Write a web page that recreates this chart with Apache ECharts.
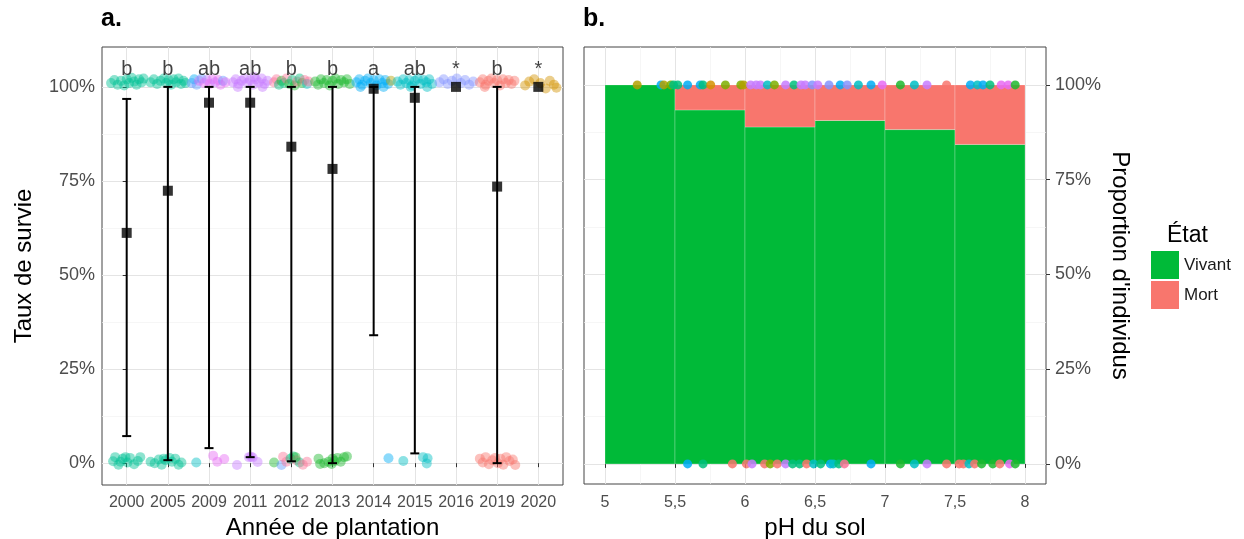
<!DOCTYPE html>
<html>
<head>
<meta charset="utf-8">
<script src="https://cdn.jsdelivr.net/npm/echarts@6/dist/echarts.min.js"></script>
<style>
  html, body { margin: 0; padding: 0; background: #fff; }
  #chart { width: 1244px; height: 539px; }
</style>
</head>
<body>
<div id="chart"></div>
<script>
// Panel a: survival by planting year
const years = ['2000', '2005', '2009', '2011', '2012', '2013', '2014', '2015', '2016', '2019', '2020'];
const letters = ['b', 'b', 'ab', 'ab', 'b', 'b', 'a', 'ab', '*', 'b', '*'];
const meanSurvival = [0.612, 0.724, 0.958, 0.958, 0.841, 0.782, 0.995, 0.971, 1.0, 0.735, 1.0];
const barLow = [0.072, 0.008, 0.040, 0.016, 0.005, 0.0, 0.340, 0.026, null, 0.0, null];
const barHigh = [0.968, 1.0, 1.0, 1.0, 1.0, 1.0, 1.0, 1.0, null, 1.0, null];

// Jittered individual points: [year index, jitter, survival, colour]
const survivorPoints = [
  [0, -0.38, 1.010, 'teal'], [0, -0.30, 1.018, 'teal'], [0, -0.22, 1.006, 'teal'], [0, -0.14, 1.016, 'teal'],
  [0, -0.06, 1.004, 'teal'], [0, 0.00, 1.020, 'teal'], [0, 0.06, 1.010, 'teal'], [0, 0.12, 1.024, 'teal'],
  [0, 0.18, 1.014, 'teal'], [0, 0.24, 1.006, 'teal'], [0, 0.30, 1.020, 'teal'], [0, 0.36, 1.012, 'teal'], [0, 0.41, 1.022, 'teal'],
  [1, -0.42, 1.012, 'teal'], [1, -0.34, 1.020, 'teal'], [1, -0.26, 1.008, 'teal'], [1, -0.18, 1.016, 'teal'],
  [1, -0.10, 1.022, 'teal'], [1, -0.04, 1.010, 'teal'], [1, 0.02, 1.018, 'teal'], [1, 0.08, 1.006, 'teal'],
  [1, 0.14, 1.020, 'teal'], [1, 0.20, 1.012, 'teal'], [1, 0.26, 1.022, 'teal'], [1, 0.32, 1.008, 'teal'],
  [1, 0.38, 1.016, 'teal'], [1, 0.43, 1.010, 'teal'],
  [2, -0.42, 1.010, 'lblue'], [2, -0.36, 1.020, 'blue'], [2, -0.30, 1.006, 'lblue'], [2, -0.24, 1.016, 'pink'],
  [2, -0.18, 1.022, 'lblue'], [2, -0.12, 1.010, 'pink'], [2, -0.05, 1.018, 'violet'], [2, 0.02, 1.008, 'pink'],
  [2, 0.08, 1.020, 'pink'], [2, 0.15, 1.012, 'violet'], [2, 0.22, 1.018, 'pink'], [2, 0.28, 1.006, 'pink'],
  [2, 0.34, 1.016, 'lblue'], [2, 0.40, 1.012, 'pink'],
  [3, -0.42, 1.012, 'violet'], [3, -0.35, 1.020, 'violet'], [3, -0.28, 1.008, 'violet'], [3, -0.21, 1.016, 'violet'],
  [3, -0.14, 1.022, 'violet'], [3, -0.07, 1.010, 'violet'], [3, 0.00, 1.018, 'violet'], [3, 0.07, 1.006, 'violet'],
  [3, 0.14, 1.020, 'violet'], [3, 0.21, 1.012, 'violet'], [3, 0.28, 1.022, 'violet'], [3, 0.35, 1.008, 'violet'],
  [3, 0.42, 1.016, 'violet'], [3, -0.30, 1.000, 'violet'], [3, 0.10, 1.026, 'violet'], [3, 0.30, 1.000, 'violet'],
  [4, -0.42, 1.012, 'rose'], [4, -0.36, 1.020, 'rose'], [4, -0.30, 1.006, 'mint'], [4, -0.24, 1.016, 'green'],
  [4, -0.18, 1.010, 'mint'], [4, -0.12, 1.022, 'rose'], [4, -0.05, 1.008, 'green'], [4, 0.02, 1.018, 'mint'],
  [4, 0.08, 1.004, 'green'], [4, 0.14, 1.014, 'rose'], [4, 0.20, 1.022, 'mint'], [4, 0.26, 1.010, 'green'],
  [4, 0.32, 1.018, 'rose'], [4, 0.38, 1.008, 'cyan'], [4, 0.42, 1.014, 'rose'],
  [5, -0.42, 1.014, 'green'], [5, -0.35, 1.006, 'green'], [5, -0.28, 1.020, 'green'], [5, -0.21, 1.010, 'green'],
  [5, -0.14, 1.018, 'green'], [5, -0.07, 1.004, 'green'], [5, 0.00, 1.016, 'green'], [5, 0.07, 1.022, 'green'],
  [5, 0.14, 1.008, 'green'], [5, 0.21, 1.018, 'green'], [5, 0.28, 1.012, 'green'], [5, 0.35, 1.020, 'green'], [5, 0.42, 1.008, 'green'],
  [6, -0.42, 1.012, 'blue'], [6, -0.35, 1.020, 'blue'], [6, -0.28, 1.006, 'blue'], [6, -0.21, 1.016, 'blue'],
  [6, -0.14, 1.022, 'blue'], [6, -0.07, 1.010, 'blue'], [6, 0.00, 1.018, 'blue'], [6, 0.07, 1.004, 'blue'],
  [6, 0.14, 1.020, 'blue'], [6, 0.21, 1.010, 'blue'], [6, 0.28, 1.018, 'blue'], [6, 0.35, 1.008, 'blue'],
  [6, 0.42, 1.016, 'olive'], [6, -0.32, 1.000, 'blue'], [6, 0.24, 1.000, 'blue'],
  [7, -0.42, 1.014, 'cyan'], [7, -0.35, 1.006, 'cyan'], [7, -0.28, 1.020, 'cyan'], [7, -0.21, 1.010, 'cyan'],
  [7, -0.14, 1.018, 'cyan'], [7, -0.07, 1.004, 'cyan'], [7, 0.00, 1.016, 'cyan'], [7, 0.07, 1.022, 'cyan'],
  [7, 0.14, 1.008, 'cyan'], [7, 0.21, 1.018, 'cyan'], [7, 0.28, 1.012, 'cyan'], [7, 0.35, 1.020, 'cyan'],
  [7, 0.42, 1.008, 'cyan'], [7, -0.10, 1.000, 'cyan'], [7, 0.30, 1.000, 'cyan'],
  [8, -0.40, 1.012, 'peri'], [8, -0.30, 1.020, 'peri'], [8, -0.20, 1.008, 'peri'], [8, -0.10, 1.016, 'peri'],
  [8, 0.02, 1.022, 'peri'], [8, 0.12, 1.010, 'peri'], [8, 0.22, 1.018, 'peri'], [8, 0.32, 1.006, 'peri'], [8, 0.42, 1.014, 'peri'],
  [9, -0.42, 1.012, 'salmon'], [9, -0.35, 1.020, 'salmon'], [9, -0.28, 1.006, 'salmon'], [9, -0.21, 1.016, 'salmon'],
  [9, -0.14, 1.022, 'salmon'], [9, -0.07, 1.010, 'salmon'], [9, 0.00, 1.018, 'salmon'], [9, 0.07, 1.004, 'salmon'],
  [9, 0.14, 1.020, 'salmon'], [9, 0.21, 1.010, 'salmon'], [9, 0.28, 1.018, 'salmon'], [9, 0.35, 1.008, 'salmon'],
  [9, 0.42, 1.016, 'salmon'], [9, -0.30, 1.000, 'salmon'],
  [10, -0.32, 1.004, 'gold'], [10, -0.22, 1.014, 'gold'], [10, -0.10, 1.020, 'gold'], [10, 0.05, 1.010, 'gold'],
  [10, 0.18, 0.996, 'gold'], [10, 0.28, 1.016, 'gold'], [10, 0.38, 1.006, 'gold'], [10, 0.44, 0.998, 'gold']
];

const deadPoints = [
  [0, -0.33, 0.005, 'teal'], [0, -0.28, 0.016, 'teal'], [0, -0.20, -0.004, 'teal'], [0, -0.10, 0.012, 'teal'],
  [0, -0.03, 0.016, 'teal'], [0, 0.02, 0.002, 'teal'], [0, 0.08, 0.014, 'teal'], [0, 0.18, -0.003, 'teal'],
  [0, 0.27, 0.006, 'teal'], [0, 0.33, 0.016, 'teal'], [0, -0.15, 0.004, 'teal'],
  [1, -0.42, 0.004, 'teal'], [1, -0.32, 0.000, 'teal'], [1, -0.22, 0.010, 'teal'], [1, -0.15, -0.004, 'teal'],
  [1, -0.06, 0.008, 'teal'], [1, 0.04, 0.014, 'teal'], [1, 0.10, 0.004, 'teal'], [1, 0.18, 0.012, 'teal'],
  [1, 0.26, -0.004, 'teal'], [1, 0.33, 0.002, 'teal'], [1, -0.10, 0.012, 'teal'],
  [2, -0.31, 0.002, 'cyan'], [2, 0.10, 0.020, 'pink'], [2, 0.20, 0.004, 'pink'], [2, 0.37, 0.011, 'pink'],
  [3, -0.32, -0.005, 'violet'], [3, -0.03, 0.016, 'violet'], [3, 0.02, 0.017, 'violet'], [3, 0.06, 0.015, 'violet'], [3, 0.18, 0.003, 'violet'],
  [4, -0.42, 0.002, 'green'], [4, -0.24, -0.005, 'lblue'], [4, -0.20, 0.017, 'rose'], [4, -0.12, 0.004, 'rose'],
  [4, -0.02, 0.012, 'mint'], [4, 0.05, 0.018, 'mint'], [4, 0.12, 0.008, 'rose'], [4, 0.20, 0.002, 'mint'],
  [4, 0.28, -0.004, 'rose'], [4, 0.38, 0.004, 'rose'], [4, 0.10, 0.016, 'green'],
  [5, -0.34, 0.012, 'green'], [5, -0.30, -0.002, 'green'], [5, -0.20, 0.000, 'green'], [5, -0.10, 0.004, 'green'],
  [5, -0.02, -0.002, 'green'], [5, 0.05, 0.006, 'green'], [5, 0.12, 0.014, 'green'], [5, 0.20, 0.004, 'green'],
  [5, 0.28, 0.016, 'green'], [5, 0.35, 0.018, 'green'], [5, 0.00, 0.012, 'green'],
  [6, 0.36, 0.013, 'blue'],
  [7, -0.28, 0.006, 'cyan'], [7, 0.20, 0.016, 'cyan'], [7, 0.31, 0.013, 'cyan'], [7, 0.29, -0.001, 'cyan'],
  [9, -0.42, 0.012, 'salmon'], [9, -0.35, 0.002, 'salmon'], [9, -0.28, 0.016, 'salmon'], [9, -0.20, -0.003, 'salmon'],
  [9, -0.12, 0.008, 'salmon'], [9, -0.05, 0.014, 'salmon'], [9, 0.02, 0.000, 'salmon'], [9, 0.08, 0.012, 'salmon'],
  [9, 0.15, -0.004, 'salmon'], [9, 0.22, 0.016, 'salmon'], [9, 0.30, 0.006, 'salmon'], [9, 0.38, 0.010, 'salmon'], [9, 0.44, -0.005, 'salmon']
];

// Panel b: share of living trees per soil pH bin
const phBinStart = [5.0, 5.5, 6.0, 6.5, 7.0, 7.5];
const phBinWidth = 0.5;
const aliveShare = [1.0, 0.934, 0.889, 0.906, 0.882, 0.843];
const phTicks = [5, 5.5, 6, 6.5, 7, 7.5, 8];
const phMinorTicks = [5.25, 5.75, 6.25, 6.75, 7.25, 7.75];

// Individual trees on the pH axis: [pH, colour]
const phAlive = [
  [5.23, 'olive'], [5.40, 'blue'], [5.42, 'olive'], [5.47, 'lime'], [5.49, 'mint'], [5.52, 'mint'],
  [5.59, 'blue'], [5.68, 'blue'], [5.70, 'mint'], [5.755, 'gold'], [5.86, 'lime'], [5.97, 'lime'],
  [5.99, 'olive'], [6.04, 'violet'], [6.08, 'violet'], [6.11, 'violet'], [6.16, 'cyan'], [6.21, 'lime'],
  [6.29, 'violet'], [6.35, 'mint'], [6.40, 'violet'], [6.43, 'violet'], [6.48, 'peri'], [6.52, 'violet'],
  [6.60, 'peri'], [6.68, 'blue'], [6.73, 'peri'], [6.81, 'cyan'], [6.90, 'blue'], [6.98, 'pink'],
  [7.11, 'green'], [7.21, 'cyan'], [7.30, 'violet'], [7.44, 'salmon'], [7.61, 'blue'], [7.66, 'cyan'],
  [7.70, 'blue'], [7.75, 'mint'], [7.83, 'pink'], [7.88, 'pink'], [7.93, 'green']
];
const phDead = [
  [5.59, 'blue'], [5.70, 'mint'], [5.91, 'salmon'], [6.01, 'salmon'], [6.05, 'violet'], [6.14, 'salmon'],
  [6.18, 'lime'], [6.23, 'salmon'], [6.29, 'violet'], [6.34, 'mint'], [6.39, 'mint'], [6.44, 'salmon'],
  [6.49, 'cyan'], [6.54, 'mint'], [6.61, 'blue'], [6.63, 'cyan'], [6.67, 'mint'], [6.71, 'rose'],
  [6.90, 'blue'], [7.11, 'green'], [7.21, 'cyan'], [7.30, 'violet'], [7.44, 'salmon'], [7.53, 'salmon'],
  [7.56, 'salmon'], [7.60, 'cyan'], [7.64, 'salmon'], [7.69, 'green'], [7.77, 'green'], [7.82, 'salmon'],
  [7.89, 'pink'], [7.93, 'green']
];

const palette = {
  teal: '#00C094', mint: '#00BF7D', pink: '#E76BF3', violet: '#C77CFF', rose: '#FB7396',
  green: '#1DB82E', blue: '#00ADF6', lblue: '#619CFF', cyan: '#00BFC4', peri: '#8494FF',
  salmon: '#F8766D', gold: '#D39200', olive: '#B3A000', lime: '#7CAE00'
};

const FONT = 'Liberation Sans, Arial, sans-serif';
const tickStyle = { show: true, length: 4, lineStyle: { color: '#333', width: 1 } };
const majorGrid = { show: true, lineStyle: { color: '#E4E4E4', width: 1 } };
const minorGrid = { show: true, lineStyle: { color: '#F2F2F2', width: 0.7 } };
const pct = v => Math.round(v * 100) + '%';
const survivalTicks = [0, 0.25, 0.5, 0.75, 1];
const survivalMinor = [0.125, 0.375, 0.625, 0.875];

const chart = echarts.init(document.getElementById('chart'), null, { renderer: 'canvas' });

function minorAxis(gridIndex, min, max, values) {
  return {
    type: 'value', gridIndex, min, max,
    axisLine: { show: false },
    axisTick: { show: false, customValues: values },
    axisLabel: { show: false, customValues: values },
    splitLine: minorGrid
  };
}

function errorBarItem(params, api) {
  const x = api.value(0);
  const lo = api.coord([x, api.value(1)]);
  const hi = api.coord([x, api.value(2)]);
  const cap = 4.5;
  const style = { stroke: '#000', lineWidth: 2 };
  return {
    type: 'group',
    children: [
      { type: 'line', shape: { x1: lo[0], y1: lo[1], x2: hi[0], y2: hi[1] }, style },
      { type: 'line', shape: { x1: lo[0] - cap, y1: lo[1], x2: lo[0] + cap, y2: lo[1] }, style },
      { type: 'line', shape: { x1: hi[0] - cap, y1: hi[1], x2: hi[0] + cap, y2: hi[1] }, style }
    ]
  };
}

function binRect(api, x0, x1, y0, y1, color) {
  const a = api.coord([x0, y1]);
  const b = api.coord([x1, y0]);
  return {
    type: 'rect',
    shape: { x: a[0], y: a[1], width: b[0] - a[0], height: b[1] - a[1] },
    style: { fill: color, stroke: 'rgba(255,255,255,0.3)', lineWidth: 0.8 }
  };
}

const jitterData = list => list.map(p => ({
  value: [p[0] + p[1], p[2]],
  itemStyle: { color: palette[p[3]] }
}));
const phData = (list, y) => list.map(p => ({ value: [p[0], y], itemStyle: { color: palette[p[1]] } }));
const binData = phBinStart.map((b, i) => [b, b + phBinWidth, aliveShare[i]]);

chart.setOption({
  animation: false,
  backgroundColor: '#fff',
  textStyle: { fontFamily: FONT },
  graphic: [
    { type: 'text', left: 101, top: 7, style: { text: 'a.', font: 'bold 25px ' + FONT, fill: '#000' } },
    { type: 'text', left: 583, top: 7, style: { text: 'b.', font: 'bold 25px ' + FONT, fill: '#000' } },
    { type: 'text', left: 1167, top: 224, style: { text: 'État', font: '23px ' + FONT, fill: '#000' } }
  ],
  legend: {
    data: ['Vivant', 'Mort'],
    orient: 'vertical', left: 1151, top: 251,
    itemWidth: 28, itemHeight: 28, itemGap: 2, padding: 0,
    icon: 'rect',
    selectedMode: false,
    textStyle: { fontSize: 17, color: '#1a1a1a', fontFamily: FONT }
  },
  grid: [
    { left: 102, top: 47, width: 461, height: 438, outerBoundsMode: 'none', show: true, borderColor: '#444', borderWidth: 1, backgroundColor: '#fff' },
    { left: 584, top: 47, width: 462, height: 437, outerBoundsMode: 'none', show: true, borderColor: '#444', borderWidth: 1, backgroundColor: '#fff' }
  ],
  xAxis: [
    {
      type: 'value', gridIndex: 0, min: -0.6, max: 10.6,
      name: 'Année de plantation', nameLocation: 'middle', nameGap: 29,
      nameTextStyle: { fontSize: 24, color: '#000', fontFamily: FONT },
      axisLine: { show: false },
      axisTick: Object.assign({ customValues: years.map((y, i) => i) }, tickStyle),
      axisLabel: { customValues: years.map((y, i) => i), formatter: v => years[Math.round(v)], fontSize: 16, color: '#4D4D4D', margin: 10, fontFamily: FONT },
      splitLine: majorGrid
    },
    {
      type: 'value', gridIndex: 1, min: 4.85, max: 8.15,
      name: 'pH du sol', nameLocation: 'middle', nameGap: 29,
      nameTextStyle: { fontSize: 24, color: '#000', fontFamily: FONT },
      axisLine: { show: false },
      axisTick: Object.assign({ customValues: phTicks }, tickStyle),
      axisLabel: { customValues: phTicks, formatter: v => String(v).replace('.', ','), fontSize: 16, color: '#4D4D4D', margin: 11, fontFamily: FONT },
      splitLine: majorGrid
    },
    minorAxis(1, 4.85, 8.15, phMinorTicks)
  ],
  yAxis: [
    {
      type: 'value', gridIndex: 0, min: -0.058, max: 1.106,
      name: 'Taux de survie', nameLocation: 'middle', nameGap: 66,
      nameTextStyle: { fontSize: 24, color: '#000', fontFamily: FONT },
      axisLine: { show: false },
      axisTick: Object.assign({ customValues: survivalTicks }, tickStyle),
      axisLabel: { customValues: survivalTicks, formatter: pct, fontSize: 18, color: '#4D4D4D', margin: 7, fontFamily: FONT },
      splitLine: majorGrid
    },
    minorAxis(0, -0.058, 1.106, survivalMinor),
    {
      type: 'value', gridIndex: 1, position: 'right', min: -0.053, max: 1.1,
      name: "Proportion d'individus", nameLocation: 'middle', nameGap: 62, nameRotate: -90,
      nameTextStyle: { fontSize: 24, color: '#000', fontFamily: FONT },
      axisLine: { show: false },
      axisTick: Object.assign({ customValues: survivalTicks }, tickStyle),
      axisLabel: { customValues: survivalTicks, formatter: pct, fontSize: 18, color: '#4D4D4D', margin: 9, fontFamily: FONT },
      splitLine: majorGrid
    },
    minorAxis(1, -0.053, 1.1, survivalMinor)
  ],
  series: [
    {
      type: 'scatter', xAxisIndex: 0, yAxisIndex: 0, clip: false,
      symbolSize: 10, itemStyle: { opacity: 0.45 },
      data: jitterData(survivorPoints.concat(deadPoints)), z: 2
    },
    {
      type: 'custom', xAxisIndex: 0, yAxisIndex: 0,
      renderItem: errorBarItem,
      data: years.map((y, i) => [i, barLow[i], barHigh[i]]).filter(d => d[1] != null), z: 3
    },
    {
      type: 'scatter', xAxisIndex: 0, yAxisIndex: 0, clip: false,
      symbol: 'rect', symbolSize: 10, itemStyle: { color: '#000' },
      data: meanSurvival.map((m, i) => [i, m]), z: 4
    },
    {
      type: 'scatter', xAxisIndex: 0, yAxisIndex: 0, clip: false,
      symbolSize: 0,
      label: { show: true, position: 'inside', formatter: p => letters[p.dataIndex], fontSize: 20, color: '#111', fontFamily: FONT },
      data: letters.map((l, i) => [i, 1.047]), z: 5
    },
    {
      name: 'Vivant', type: 'custom', xAxisIndex: 1, yAxisIndex: 2,
      itemStyle: { color: '#00BA38' },
      renderItem: (params, api) => binRect(api, api.value(0), api.value(1), 0, api.value(2), '#00BA38'),
      data: binData
    },
    {
      name: 'Mort', type: 'custom', xAxisIndex: 1, yAxisIndex: 2,
      itemStyle: { color: '#F8766D' },
      renderItem: (params, api) => api.value(2) >= 1 ? null : binRect(api, api.value(0), api.value(1), api.value(2), 1, '#F8766D'),
      data: binData
    },
    {
      type: 'scatter', xAxisIndex: 1, yAxisIndex: 2, clip: false,
      symbolSize: 9, itemStyle: { opacity: 0.85 },
      data: phData(phAlive, 1).concat(phData(phDead, 0)), z: 3
    }
  ]
});
</script>
</body>
</html>
